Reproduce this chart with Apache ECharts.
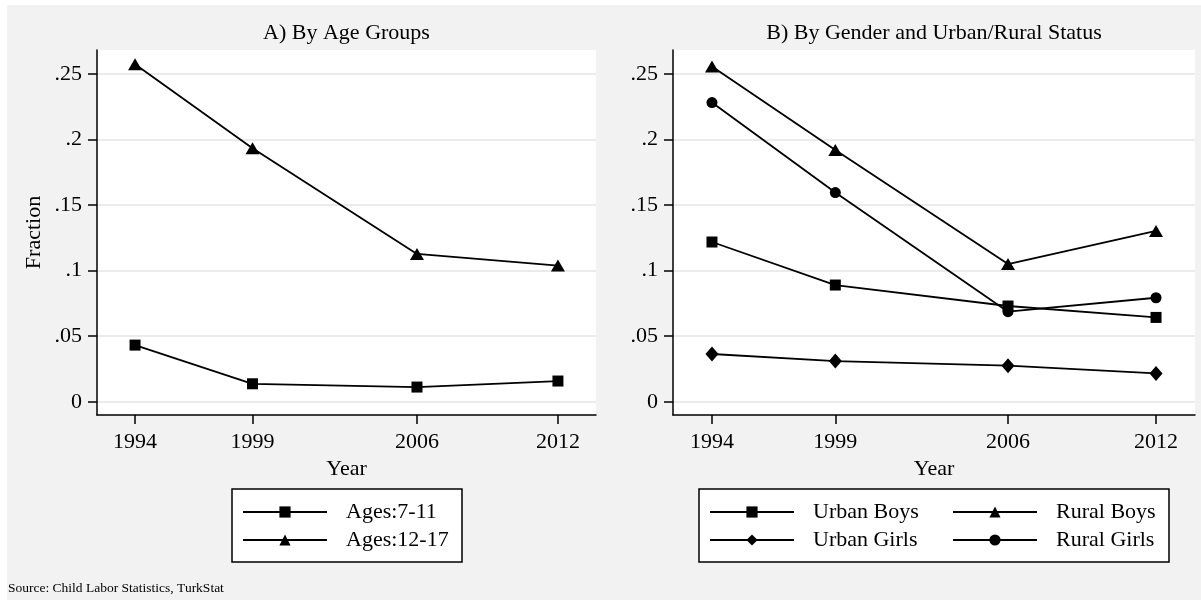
<!DOCTYPE html>
<html>
<head>
<meta charset="utf-8">
<script src="https://cdn.jsdelivr.net/npm/echarts@6/dist/echarts.min.js"></script>
<style>
  html, body { margin: 0; padding: 0; background: #ffffff; }
  #bg { position: absolute; left: 7px; top: 5px; width: 1194px; height: 595px; background: #f2f2f2; }
  #chart { position: absolute; left: 0; top: 0; width: 1201px; height: 600px; }
</style>
</head>
<body>
<div id="bg"></div>
<div id="chart"></div>
<script>
// ---- data ----
const years = [1994, 1999, 2006, 2012];
const yTicks = [0, 0.05, 0.1, 0.15, 0.2, 0.25];

const ages7to11  = [0.0432, 0.0137, 0.0112, 0.0158];
const ages12to17 = [0.2574, 0.1933, 0.1127, 0.1038];

const urbanBoys  = [0.1218, 0.0890, 0.0730, 0.0643];
const ruralBoys  = [0.2556, 0.1920, 0.1050, 0.1302];
const urbanGirls = [0.0364, 0.0310, 0.0275, 0.0216];
const ruralGirls = [0.2281, 0.1595, 0.0687, 0.0793];

const panelTitles = ['A) By Age Groups', 'B) By Gender and Urban/Rural Status'];
const sourceNote = 'Source: Child Labor Statistics, TurkStat';

// ---- chart ----
const FONT = 'Liberation Serif, Times New Roman, serif';
const pairs = arr => years.map((y, i) => [y, arr[i]]);
const yFmt = v => (v === 0 ? '0' : String(+v.toFixed(2)).replace(/^0\./, '.'));

function xAxisCfg(gridIndex, min, max) {
  return {
    type: 'value', gridIndex, min, max,
    name: 'Year', nameLocation: 'middle', nameGap: 39,
    nameTextStyle: { fontFamily: FONT, fontSize: 22, color: '#000' },
    axisLine: { show: true, onZero: false, lineStyle: { color: '#000', width: 1.5 } },
    axisTick: { show: true, length: 9, customValues: years, lineStyle: { color: '#000', width: 1.5 } },
    axisLabel: { customValues: years, margin: 16, formatter: v => String(v),
                 fontFamily: FONT, fontSize: 22, color: '#000' },
    splitLine: { show: false }
  };
}
function yAxisCfg(gridIndex, withName) {
  return {
    type: 'value', gridIndex, min: -0.0101, max: 0.2682,
    name: withName ? 'Fraction' : '', nameLocation: 'middle', nameGap: 52, nameRotate: 90,
    nameTextStyle: { fontFamily: FONT, fontSize: 22, color: '#000' },
    axisLine: { show: true, onZero: false, lineStyle: { color: '#000', width: 1.5 } },
    axisTick: { show: true, length: 9, customValues: yTicks, lineStyle: { color: '#000', width: 1.5 } },
    axisLabel: { customValues: yTicks, margin: 15, formatter: yFmt,
                 fontFamily: FONT, fontSize: 22, color: '#000' },
    splitLine: { show: true, lineStyle: { color: '#ebebeb', width: 2 } }
  };
}
function lineSeries(name, arr, idx, symbol, size) {
  return {
    type: 'line', name, xAxisIndex: idx, yAxisIndex: idx,
    data: pairs(arr), symbol, symbolSize: size, showSymbol: true,
    itemStyle: { color: '#000' },
    lineStyle: { color: '#000', width: 1.8 },
    emphasis: { disabled: true }, animation: false
  };
}
const legendText = { fontFamily: FONT, fontSize: 22, color: '#000', padding: [0, 0, 0, 14] };
function legendCfg(data, left) {
  return {
    data, left, top: 501, orient: 'vertical', itemWidth: 84, itemHeight: 14, itemGap: 6,
    selectedMode: false, textStyle: legendText, padding: 0
  };
}

const chart = echarts.init(document.getElementById('chart'), null, { renderer: 'canvas' });
chart.setOption({
  animation: false,
  grid: [
    { left: 97, top: 50, width: 499, height: 365, show: true, backgroundColor: '#ffffff', borderWidth: 0 },
    { left: 673, top: 50, width: 522, height: 365, show: true, backgroundColor: '#ffffff', borderWidth: 0 }
  ],
  xAxis: [xAxisCfg(0, 1992.38, 2013.62), xAxisCfg(1, 1992.42, 2013.58)],
  yAxis: [yAxisCfg(0, true), yAxisCfg(1, false)],
  legend: [
    legendCfg(['Ages:7-11', 'Ages:12-17'], 242),
    legendCfg(['Urban Boys', 'Urban Girls'], 709),
    legendCfg(['Rural Boys', 'Rural Girls'], 952)
  ],
  graphic: [
    { type: 'rect', z: 0, shape: { x: 232, y: 489, width: 230, height: 73 },
      style: { fill: '#ffffff', stroke: '#000', lineWidth: 1.5 } },
    { type: 'rect', z: 0, shape: { x: 699, y: 489, width: 470, height: 73 },
      style: { fill: '#ffffff', stroke: '#000', lineWidth: 1.5 } },
    { type: 'text', x: 346.5, y: 33.4, style: { text: panelTitles[0], fontFamily: FONT, fontSize: 22,
      fill: '#000', align: 'center', verticalAlign: 'middle' } },
    { type: 'text', x: 934, y: 33.4, style: { text: panelTitles[1], fontFamily: FONT, fontSize: 22,
      fill: '#000', align: 'center', verticalAlign: 'middle' } },
    { type: 'text', x: 8, y: 588, style: { text: sourceNote, fontFamily: FONT, fontSize: 13.5,
      fill: '#000', align: 'left', verticalAlign: 'middle' } }
  ],
  series: [
    lineSeries('Ages:7-11', ages7to11, 0, 'rect', 11),
    lineSeries('Ages:12-17', ages12to17, 0, 'triangle', [14, 12]),
    lineSeries('Urban Boys', urbanBoys, 1, 'rect', 11),
    lineSeries('Rural Boys', ruralBoys, 1, 'triangle', [14, 12]),
    lineSeries('Urban Girls', urbanGirls, 1, 'diamond', [13, 15]),
    lineSeries('Rural Girls', ruralGirls, 1, 'circle', 11)
  ]
});
</script>
</body>
</html>
